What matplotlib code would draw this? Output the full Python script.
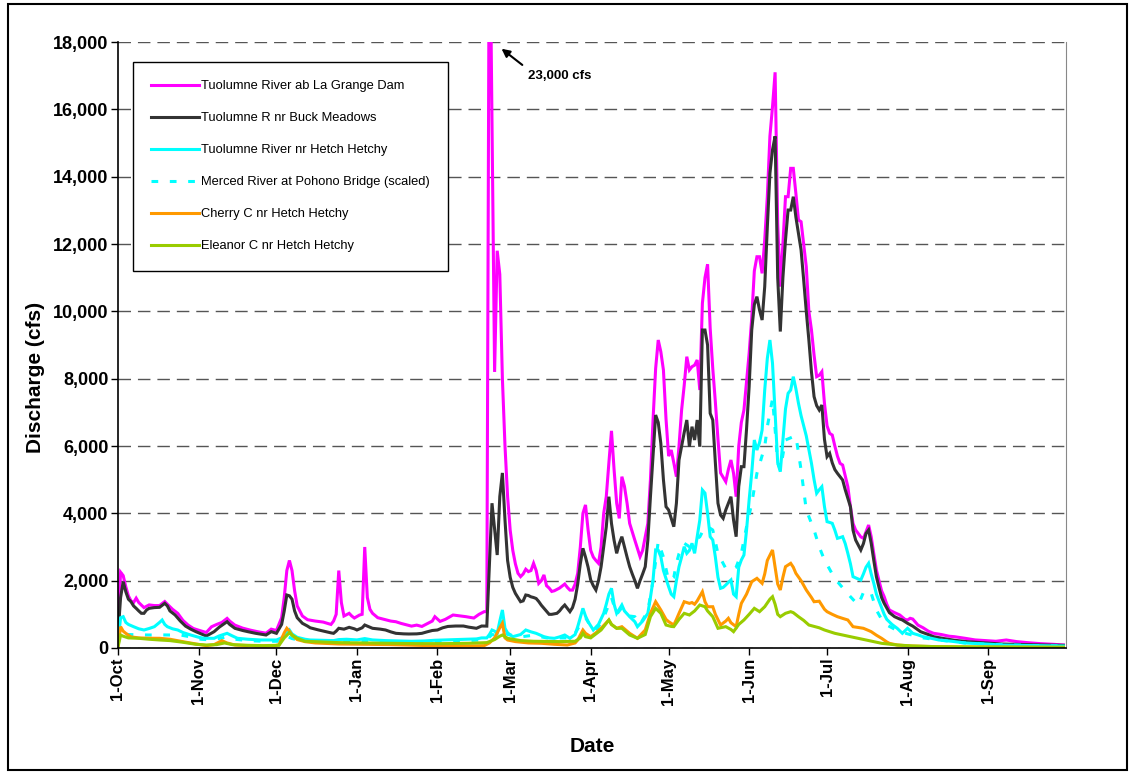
import numpy as np
import matplotlib
matplotlib.use('Agg')
import matplotlib.pyplot as plt
import matplotlib.dates as mdates
from matplotlib.patches import Rectangle
from matplotlib.ticker import FuncFormatter, MultipleLocator

plt.rcParams['font.family'] = ['Liberation Sans', 'DejaVu Sans']

# water year start; values are (day offset from 1-Oct, discharge cfs)
start = np.datetime64('1985-10-01')

lagrange_day = [0, 1, 2, 3, 4, 5, 6, 7, 8, 10, 12, 14, 16, 18, 19, 21, 23, 25, 27, 29, 31, 34, 36, 38, 40, 42, 43, 45, 48, 51, 54, 57, 59, 61, 63, 64, 65, 66, 67, 68, 69, 71, 73, 76, 79, 82, 83, 84, 85, 86, 87, 89, 90, 91, 93, 94, 95, 96, 97, 98, 100, 103, 105, 107, 109, 111, 113, 115, 117, 119, 121, 122, 124, 126, 129, 131, 134, 137, 139, 141, 142, 143, 145, 146, 147, 148, 149, 150, 151, 152, 153, 154, 155, 156, 157, 158, 159, 160, 161, 162, 163, 164, 165, 166, 167, 168, 170, 172, 173, 174, 175, 176, 177, 178, 179, 180, 181, 182, 183, 184, 185, 186, 187, 188, 189, 190, 191, 192, 193, 194, 195, 196, 197, 199, 201, 202, 204, 205, 206, 207, 208, 209, 210, 211, 212, 213, 214, 215, 216, 217, 218, 219, 220, 221, 222, 223, 224, 225, 226, 227, 228, 229, 230, 231, 232, 234, 235, 236, 237, 238, 239, 240, 241, 242, 243, 244, 245, 246, 247, 248, 249, 250, 251, 252, 253, 254, 255, 256, 257, 258, 259, 260, 261, 262, 263, 264, 265, 266, 267, 268, 269, 270, 271, 272, 273, 274, 275, 276, 277, 278, 279, 281, 282, 283, 284, 286, 287, 288, 289, 290, 291, 292, 293, 294, 295, 296, 297, 299, 301, 303, 304, 305, 306, 308, 310, 312, 314, 317, 320, 322, 326, 330, 334, 338, 342, 346, 350, 355, 360, 364]
lagrange_cfs = [600, 2250, 2150, 1820, 1550, 1400, 1350, 1480, 1350, 1200, 1280, 1260, 1260, 1380, 1300, 1150, 1030, 820, 680, 580, 530, 460, 630, 700, 760, 880, 800, 680, 590, 530, 480, 440, 560, 520, 900, 1500, 2300, 2600, 2300, 1700, 1250, 950, 840, 800, 770, 700, 800, 1000, 2300, 1350, 950, 1030, 950, 890, 980, 1000, 3000, 1500, 1150, 1030, 900, 840, 800, 780, 730, 690, 650, 680, 640, 720, 800, 930, 790, 850, 980, 960, 930, 890, 1000, 1080, 1080, 23000, 8200, 11800, 11100, 8000, 6000, 4500, 3500, 2900, 2500, 2220, 2120, 2200, 2340, 2270, 2300, 2515, 2300, 1920, 2000, 2170, 1850, 1780, 1680, 1700, 1780, 1900, 1800, 1720, 1720, 1900, 2220, 3000, 4000, 4250, 3500, 2900, 2700, 2600, 2515, 3000, 4000, 4500, 5500, 6450, 5300, 4300, 3850, 5089, 4800, 4300, 3700, 3200, 2712, 2900, 3703, 5000, 6772, 8300, 9148, 8800, 8257, 6800, 5700, 5881, 5500, 5089, 6000, 7069, 7800, 8653, 8257, 8356, 8400, 8554, 7663, 10238, 11000, 11400, 9500, 8300, 7300, 6200, 5200, 4940, 5300, 5584, 5188, 4494, 6000, 6700, 7069, 7900, 8752, 9800, 11200, 11622, 11622, 11128, 12118, 13405, 15200, 16077, 17100, 12600, 10733, 12000, 13405, 13405, 14247, 14247, 13500, 12712, 12662, 12000, 11325, 10000, 9445, 8700, 8059, 8100, 8207, 7268, 6600, 6376, 6326, 6000, 5700, 5485, 5435, 4791, 4200, 3700, 3505, 3300, 3258, 3450, 3653, 3306, 2800, 2317, 2000, 1700, 1524, 1300, 1129, 1050, 980, 850, 832, 882, 860, 680, 600, 500, 437, 400, 350, 336, 290, 240, 220, 200, 238, 190, 160, 130, 110, 90]

buck_day = [0, 1, 2, 3, 4, 5, 6, 7, 8, 9, 10, 11, 12, 14, 16, 18, 19, 20, 22, 24, 26, 28, 30, 32, 34, 35, 37, 39, 42, 43, 45, 48, 50, 53, 57, 59, 61, 63, 64, 65, 66, 67, 68, 69, 71, 73, 74, 77, 80, 82, 83, 84, 85, 87, 89, 91, 92, 94, 95, 97, 98, 101, 103, 105, 107, 110, 112, 115, 117, 119, 121, 123, 125, 127, 130, 133, 135, 138, 140, 142, 143, 144, 146, 147, 148, 149, 150, 151, 152, 153, 154, 155, 156, 157, 158, 159, 160, 161, 162, 163, 164, 165, 166, 167, 169, 170, 171, 172, 173, 174, 175, 176, 177, 178, 179, 180, 181, 182, 183, 184, 185, 186, 187, 188, 189, 190, 191, 192, 193, 194, 195, 196, 197, 198, 199, 200, 201, 202, 203, 204, 205, 206, 207, 208, 209, 210, 211, 212, 213, 214, 215, 216, 217, 218, 219, 220, 221, 222, 223, 224, 225, 226, 227, 228, 229, 230, 231, 232, 233, 234, 235, 236, 237, 238, 239, 240, 241, 242, 243, 244, 245, 246, 247, 248, 249, 250, 251, 252, 253, 254, 255, 256, 257, 258, 259, 260, 261, 262, 263, 264, 265, 266, 267, 268, 269, 270, 271, 272, 273, 274, 275, 276, 277, 279, 280, 282, 283, 284, 286, 287, 288, 289, 290, 291, 292, 293, 294, 295, 297, 299, 301, 302, 304, 306, 309, 312, 314, 318, 322, 327, 332, 336, 340, 345, 350, 356, 364]
buck_cfs = [400, 1500, 1970, 1672, 1450, 1375, 1250, 1178, 1100, 1030, 1030, 1130, 1178, 1200, 1208, 1326, 1250, 1100, 980, 800, 650, 560, 485, 420, 356, 400, 485, 620, 782, 700, 585, 520, 485, 436, 386, 485, 436, 700, 1100, 1574, 1550, 1450, 1100, 900, 733, 650, 600, 540, 485, 450, 436, 500, 585, 560, 614, 570, 535, 600, 683, 620, 585, 560, 535, 480, 436, 420, 416, 420, 436, 480, 520, 535, 600, 640, 653, 653, 620, 585, 653, 650, 2500, 4300, 2762, 4500, 5200, 3802, 2600, 2100, 1800, 1623, 1500, 1375, 1400, 1574, 1560, 1520, 1500, 1470, 1380, 1270, 1178, 1090, 1000, 1000, 1030, 1100, 1200, 1277, 1180, 1079, 1200, 1450, 1900, 2500, 2961, 2700, 2400, 2020, 1850, 1723, 2000, 2415, 3000, 3600, 4494, 3700, 3200, 2812, 3100, 3306, 3000, 2700, 2415, 2200, 2000, 1773, 2000, 2200, 2415, 3200, 4494, 5700, 6920, 6700, 6079, 5000, 4197, 4099, 3850, 3603, 4300, 5584, 6000, 6400, 6772, 5979, 6574, 6178, 6772, 5979, 9445, 9445, 9000, 6970, 6772, 5500, 4300, 3950, 3851, 4100, 4300, 4494, 3800, 3306, 4800, 5386, 5386, 6500, 7762, 9445, 10200, 10436, 10040, 9742, 10733, 12500, 14099, 14800, 15200, 11000, 9400, 11000, 12118, 13009, 13009, 13405, 12800, 12316, 11820, 10930, 10000, 9148, 8200, 7466, 7200, 7069, 7217, 6200, 5683, 5782, 5500, 5300, 5188, 4990, 4700, 4197, 3500, 3208, 2911, 3100, 3400, 3505, 3110, 2600, 2118, 1800, 1500, 1326, 1050, 930, 860, 832, 733, 650, 485, 400, 336, 280, 230, 188, 160, 140, 119, 110, 100, 90, 80]

hetch_day = [0, 1, 2, 3, 4, 6, 8, 10, 12, 14, 16, 17, 18, 19, 21, 23, 25, 28, 31, 33, 37, 39, 42, 44, 46, 50, 55, 61, 63, 65, 66, 67, 69, 72, 74, 78, 83, 85, 88, 92, 95, 98, 103, 108, 113, 118, 122, 126, 130, 134, 138, 140, 142, 143, 144, 145, 146, 147, 148, 149, 150, 152, 155, 157, 159, 161, 164, 166, 168, 170, 172, 174, 176, 177, 178, 179, 180, 181, 183, 185, 187, 188, 189, 190, 191, 192, 193, 194, 195, 197, 199, 200, 202, 204, 205, 206, 207, 208, 209, 210, 212, 213, 214, 215, 216, 217, 218, 219, 220, 221, 222, 223, 224, 225, 226, 227, 228, 229, 230, 231, 232, 233, 234, 235, 236, 237, 238, 239, 240, 241, 242, 243, 244, 245, 246, 247, 248, 249, 250, 251, 252, 253, 254, 255, 256, 257, 258, 259, 260, 261, 262, 263, 264, 265, 266, 267, 268, 269, 270, 271, 272, 273, 274, 275, 276, 277, 278, 279, 280, 281, 282, 283, 285, 286, 287, 288, 289, 290, 291, 292, 293, 294, 295, 296, 298, 300, 302, 304, 306, 308, 310, 313, 316, 321, 326, 331, 336, 340, 346, 352, 358, 364]
hetch_cfs = [200, 900, 930, 760, 700, 633, 570, 535, 580, 633, 760, 832, 700, 633, 570, 535, 460, 386, 320, 288, 288, 360, 436, 360, 288, 260, 238, 238, 300, 450, 535, 420, 317, 260, 238, 230, 220, 250, 260, 240, 280, 240, 220, 210, 200, 210, 230, 240, 250, 260, 270, 300, 300, 400, 535, 500, 436, 800, 1129, 585, 450, 336, 400, 535, 480, 436, 336, 300, 288, 330, 386, 288, 400, 633, 900, 1178, 950, 782, 535, 700, 1030, 1300, 1600, 1773, 1300, 1030, 1150, 1277, 1100, 930, 780, 633, 800, 1030, 1500, 2020, 2911, 2900, 2712, 2300, 1821, 1600, 1524, 2000, 2415, 2700, 3009, 2812, 2900, 3110, 2812, 3306, 3800, 4693, 4600, 4000, 3306, 3208, 2700, 2100, 1773, 1800, 1871, 1950, 2020, 1600, 1524, 2400, 2614, 2762, 3500, 4400, 5200, 6178, 5881, 6100, 6475, 7663, 8600, 9148, 8456, 7000, 5500, 5237, 6178, 7100, 7564, 7663, 8059, 7700, 7268, 6900, 6600, 6300, 5900, 5485, 5000, 4595, 4700, 4791, 4200, 3752, 3730, 3703, 3500, 3258, 3280, 3306, 3100, 2812, 2500, 2118, 2050, 2020, 2200, 2400, 2515, 2200, 1921, 1600, 1400, 1200, 1000, 850, 700, 585, 436, 585, 436, 390, 336, 290, 238, 200, 150, 130, 110, 89, 80, 70, 65, 60]

merced_day = [0, 1, 2, 4, 8, 12, 16, 20, 24, 28, 32, 36, 40, 42, 45, 50, 56, 62, 65, 67, 70, 75, 85, 95, 105, 115, 125, 135, 142, 144, 146, 148, 150, 155, 160, 165, 170, 175, 178, 180, 182, 184, 187, 190, 192, 194, 197, 199, 201, 204, 206, 208, 210, 212, 214, 215, 216, 218, 220, 222, 224, 226, 228, 229, 231, 234, 236, 238, 240, 242, 244, 246, 249, 250, 252, 253, 254, 255, 257, 260, 261, 262, 263, 265, 268, 270, 272, 275, 277, 280, 282, 285, 287, 288, 290, 292, 294, 296, 299, 301, 305, 310, 318, 326, 335, 345, 355, 364]
merced_cfs = [100, 450, 420, 400, 390, 386, 390, 386, 386, 330, 260, 240, 300, 330, 260, 220, 200, 200, 350, 280, 230, 200, 200, 220, 190, 180, 200, 220, 250, 400, 380, 800, 400, 330, 380, 300, 300, 300, 700, 900, 650, 500, 900, 1500, 1000, 1200, 950, 930, 700, 1100, 2000, 3158, 2700, 2000, 2100, 2515, 2800, 3110, 3009, 3208, 3300, 3600, 3555, 3505, 2800, 2366, 2317, 2400, 2812, 3600, 4300, 5188, 5979, 6574, 7400, 6500, 5500, 5300, 6178, 6277, 6300, 5800, 5287, 4099, 3505, 3000, 2614, 2200, 1970, 1700, 1524, 1277, 1650, 1723, 1623, 1129, 850, 683, 560, 485, 400, 300, 220, 150, 110, 90, 70, 60]

cherry_day = [0, 1, 2, 3, 5, 8, 12, 16, 20, 25, 30, 34, 37, 40, 42, 45, 50, 55, 60, 62, 64, 65, 66, 67, 69, 72, 76, 85, 95, 105, 115, 125, 135, 141, 143, 145, 147, 148, 149, 150, 153, 158, 163, 168, 173, 176, 177, 179, 180, 182, 184, 186, 189, 190, 192, 194, 197, 200, 203, 205, 207, 209, 211, 212, 214, 215, 216, 218, 220, 221, 222, 223, 225, 226, 227, 229, 230, 232, 234, 235, 236, 238, 239, 240, 242, 244, 246, 248, 249, 250, 252, 253, 254, 255, 256, 257, 259, 260, 261, 263, 265, 267, 268, 270, 272, 273, 275, 277, 279, 281, 283, 285, 287, 289, 290, 292, 294, 296, 297, 300, 305, 315, 330, 345, 364]
cherry_cfs = [50, 633, 500, 436, 330, 300, 290, 288, 260, 188, 120, 70, 100, 218, 150, 89, 70, 60, 59, 100, 450, 585, 500, 386, 250, 188, 150, 119, 110, 100, 80, 60, 59, 70, 150, 300, 600, 733, 300, 238, 190, 150, 140, 110, 89, 150, 238, 535, 436, 336, 450, 585, 832, 700, 585, 633, 436, 288, 535, 1030, 1375, 1129, 850, 782, 683, 850, 1030, 1375, 1326, 1350, 1300, 1400, 1672, 1375, 1226, 1226, 1000, 683, 800, 882, 750, 633, 1000, 1326, 1600, 1970, 2069, 1921, 2200, 2600, 2911, 2400, 1900, 1723, 2100, 2415, 2515, 2400, 2218, 2000, 1723, 1500, 1375, 1390, 1150, 1079, 1000, 930, 880, 832, 633, 610, 585, 520, 485, 380, 288, 180, 139, 89, 60, 40, 30, 25, 20]

eleanor_day = [0, 1, 2, 4, 8, 12, 16, 20, 25, 30, 34, 38, 41, 44, 50, 56, 62, 64, 66, 67, 69, 72, 76, 85, 95, 105, 115, 125, 135, 142, 145, 147, 148, 150, 155, 160, 170, 176, 178, 179, 180, 182, 186, 189, 190, 192, 194, 197, 200, 203, 205, 207, 209, 211, 213, 214, 216, 218, 220, 222, 224, 226, 227, 229, 231, 234, 236, 237, 239, 241, 243, 245, 247, 249, 251, 252, 253, 254, 255, 257, 259, 260, 262, 264, 266, 270, 272, 276, 282, 288, 294, 300, 306, 315, 330, 345, 364]
eleanor_cfs = [30, 386, 350, 300, 288, 260, 238, 220, 170, 110, 89, 100, 150, 100, 80, 70, 80, 300, 455, 380, 288, 200, 188, 160, 150, 140, 130, 130, 140, 160, 250, 350, 386, 288, 220, 200, 190, 200, 300, 436, 336, 300, 535, 832, 700, 585, 585, 386, 288, 400, 930, 1178, 1030, 683, 640, 634, 850, 1030, 980, 1100, 1277, 1226, 1100, 930, 585, 634, 550, 485, 700, 832, 1000, 1178, 1079, 1226, 1450, 1524, 1300, 1000, 930, 1030, 1079, 1050, 930, 820, 683, 600, 535, 436, 336, 238, 139, 89, 60, 40, 30, 25, 20]

series = [
    ('Tuolumne River ab La Grange Dam', lagrange_day, lagrange_cfs, '#FF00FF', '-'),
    ('Tuolumne R nr Buck Meadows', buck_day, buck_cfs, '#333333', '-'),
    ('Tuolumne River nr Hetch Hetchy', hetch_day, hetch_cfs, '#00FFFF', '-'),
    ('Merced River at Pohono Bridge (scaled)', merced_day, merced_cfs, '#00FFFF', '--'),
    ('Cherry C nr Hetch Hetchy', cherry_day, cherry_cfs, '#FF9900', '-'),
    ('Eleanor C nr Hetch Hetchy', eleanor_day, eleanor_cfs, '#99CC00', '-'),
]

fig = plt.figure(figsize=(11.32, 7.74), dpi=100)
ax = fig.add_axes([118 / 1132, 1 - 648 / 774, 948 / 1132, 606 / 774])

for label, d, v, color, ls in series:
    dates = start + np.array(d, dtype='timedelta64[D]')
    line, = ax.plot(dates, v, color=color, lw=2.2, label=label, solid_joinstyle='miter')
    if ls == '--':
        line.set_dashes((2.2, 3.8))

ax.set_xlim(start, start + np.timedelta64(365, 'D'))
ax.set_ylim(0, 18000)

# month starts, no tick at the closing 1-Oct
month_starts = np.arange(start.astype('datetime64[M]'), start.astype('datetime64[M]') + 12).astype('datetime64[D]')
ax.set_xticks(month_starts)
ax.xaxis.set_major_formatter(mdates.DateFormatter('1-%b'))
ax.yaxis.set_major_locator(MultipleLocator(2000))
ax.yaxis.set_major_formatter(FuncFormatter(lambda x, p: f'{x:,.0f}'))
ax.tick_params(axis='both', direction='out', length=5, width=1, pad=2)
ax.tick_params(axis='x', labelsize=12, labelrotation=90)
ax.tick_params(axis='y', labelsize=13)
for t in ax.get_xticklabels() + ax.get_yticklabels():
    t.set_fontweight('bold')

ax.yaxis.grid(True, linestyle=(0, (9, 5)), color='#555555', lw=1)
ax.set_axisbelow(True)
ax.spines['top'].set_visible(False)
ax.spines['right'].set_color('#888888')
ax.spines['left'].set_linewidth(1.2)
ax.spines['bottom'].set_linewidth(1.2)

ax.set_xlabel('Date', fontsize=15, fontweight='bold')
ax.set_ylabel('Discharge (cfs)', fontsize=15, fontweight='bold')
ax.xaxis.set_label_coords(0.5, -0.147)
ax.yaxis.set_label_coords(-0.077, 0.446)

leg = ax.legend(loc='upper left', bbox_to_anchor=(0.016, 0.967), fontsize=9.3,
                frameon=True, fancybox=False, edgecolor='black', framealpha=1,
                handlelength=3.7, labelspacing=1.55, borderpad=1.4, handletextpad=0.15,
                borderaxespad=0)
leg.get_frame().set_linewidth(1)

ax.annotate('23,000 cfs', xy=(start + np.timedelta64(147, 'D') + np.timedelta64(16, 'h'), 17800),
            xytext=(start + np.timedelta64(158, 'D'), 17000),
            fontsize=9.5, fontweight='bold', ha='left', va='center',
            arrowprops=dict(arrowstyle='-|>', color='black', lw=1.5, mutation_scale=12,
                            relpos=(0, 1), shrinkA=3, shrinkB=0))

fig.patches.append(Rectangle((8 / 1132, 4 / 774), 1119 / 1132, 766 / 774, transform=fig.transFigure,
                             fill=False, edgecolor='black', lw=1.5))

fig.savefig('out.png', dpi=100)
